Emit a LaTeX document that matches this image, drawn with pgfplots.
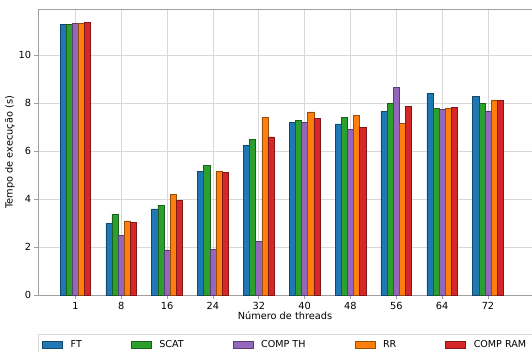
\documentclass[border=0pt]{standalone}
\usepackage{pgfplots}
\usepackage{pgfplotstable}
\pgfplotsset{compat=1.18}
\usepackage{fontspec}
\setmainfont{DejaVu Sans}
\definecolor{cFT}{HTML}{1F77B4}
\definecolor{cSC}{HTML}{2CA02C}
\definecolor{cTH}{HTML}{9467BD}
\definecolor{cRR}{HTML}{FF7F0E}
\definecolor{cRAM}{HTML}{D62728}
\definecolor{spine}{HTML}{A0A0A0}
\definecolor{gridc}{HTML}{D8D8D8}
\pgfplotstableread{
x FT SCAT TH RR RAM
0 11.29 11.30 11.33 11.33 11.37
1 3.00 3.36 2.50 3.10 3.04
2 3.60 3.76 1.89 4.21 3.96
3 5.15 5.42 1.92 5.15 5.12
4 6.25 6.51 2.25 7.40 6.60
5 7.21 7.30 7.21 7.64 7.36
6 7.14 7.40 6.90 7.50 7.01
7 7.68 8.01 8.67 7.17 7.87
8 8.42 7.79 7.76 7.80 7.83
9 8.29 8.01 7.69 8.14 8.12
}\data
\begin{document}
\begin{tikzpicture}
\begin{axis}[
  at={(0,0)}, anchor=south west,
  scale only axis, width=494bp, height=286bp,
  font=\fontsize{9.8}{11}\selectfont,
  /pgf/number format/assume math mode=true,
  xmin=-0.815, xmax=9.96, ymin=0, ymax=11.92,
  xtick={0,...,9},
  xticklabels={1,8,16,24,32,40,48,56,64,72},
  ytick={0,2,4,6,8,10},
  grid=major,
  major grid style={gridc, line width=0.6pt},
  axis line style={spine, line width=0.8pt},
  tick style={spine, line width=0.6pt},
  tick align=outside,
  major tick length=3.5bp,
  xtick pos=bottom, ytick pos=left,
  xlabel={Número de threads},
  ylabel={Tempo de execução (s)},
  xlabel style={yshift=5bp},
  ylabel style={yshift=-3bp},
  ybar, bar width=0.134,
  legend columns=5,
  legend cell align=left,
  legend image code/.code={\draw[#1] (0bp,-3.5bp) rectangle (20bp,3.5bp);},
  legend style={at={(0,0)}, anchor=north west, yshift=-38.7bp,
    draw=gridc, fill=white, inner xsep=4bp, inner ysep=4bp,
    font=\fontsize{9.6}{11}\selectfont,
    /tikz/every odd column/.append style={column sep=6bp},
    /tikz/every even column/.append style={column sep=47bp}},
]
\addplot[bar shift=-0.268, fill=cFT, draw=cFT!60!black, line width=0.5pt] table[x=x,y=FT]{\data};
\addplot[bar shift=-0.134, fill=cSC, draw=cSC!60!black, line width=0.5pt] table[x=x,y=SCAT]{\data};
\addplot[bar shift=0, fill=cTH, draw=cTH!60!black, line width=0.5pt] table[x=x,y=TH]{\data};
\addplot[bar shift=0.134, fill=cRR, draw=cRR!60!black, line width=0.5pt] table[x=x,y=RR]{\data};
\addplot[bar shift=0.268, fill=cRAM, draw=cRAM!60!black, line width=0.5pt] table[x=x,y=RAM]{\data};
\legend{FT,SCAT,COMP TH,RR,COMP RAM}
\end{axis}
\pgfresetboundingbox
\useasboundingbox (-38bp,-56.7bp) rectangle (494bp,295.3bp);
\end{tikzpicture}
\end{document}
